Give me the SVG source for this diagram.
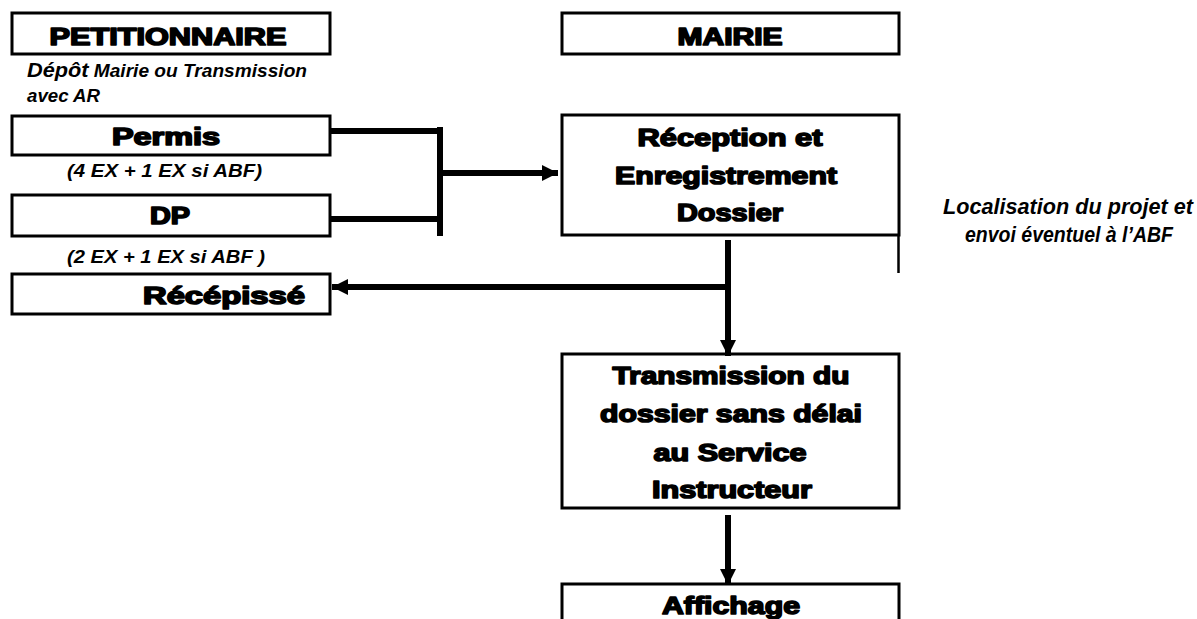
<svg xmlns="http://www.w3.org/2000/svg" width="1197" height="619" viewBox="0 0 1197 619">
<style>
.box{fill:#fff;stroke:#000;stroke-width:3}
.h{font-family:"Liberation Sans",Arial,sans-serif;font-weight:bold;fill:#000;stroke:#000;stroke-width:1.6;stroke-linejoin:round;text-anchor:middle;font-size:23px}
.h2{font-size:24px}
.it{font-family:"Liberation Sans",Arial,sans-serif;font-weight:bold;font-style:italic;fill:#000;font-size:18.5px}
.dep{font-size:21px}
.loc{font-size:21.5px;text-anchor:middle}
.c{fill:none;stroke:#000;stroke-width:6}
</style>
<defs>
<marker id="ah" viewBox="0 0 16 16" refX="16" refY="8" markerWidth="16" markerHeight="16" markerUnits="userSpaceOnUse" orient="auto">
<path d="M0,0 L16,8 L0,16 z" fill="#000"/>
</marker>
</defs>
<rect width="1197" height="619" fill="#fff"/>

<g id="petitionnaire">
<rect class="box" x="12" y="13" width="318" height="41"/>
<text class="h" x="168" y="45" textLength="237" lengthAdjust="spacingAndGlyphs">PETITIONNAIRE</text>
</g>
<g id="depot-label">
<text class="it" x="27" y="77" textLength="280" lengthAdjust="spacingAndGlyphs"><tspan class="dep">Dépôt</tspan> Mairie ou Transmission</text>
<text class="it" x="27" y="102" textLength="73" lengthAdjust="spacingAndGlyphs">avec AR</text>
</g>
<g id="permis">
<rect class="box" x="12" y="116" width="318" height="39"/>
<text class="h" x="166" y="145" textLength="108" lengthAdjust="spacingAndGlyphs">Permis</text>
<text class="it" x="67" y="177" textLength="195" lengthAdjust="spacingAndGlyphs">(4 EX + 1 EX si ABF)</text>
</g>
<g id="dp">
<rect class="box" x="12" y="195" width="318" height="41"/>
<text class="h" x="170" y="224" textLength="40" lengthAdjust="spacingAndGlyphs">DP</text>
<text class="it" x="67" y="263" textLength="198" lengthAdjust="spacingAndGlyphs">(2 EX + 1 EX si ABF )</text>
</g>
<g id="recepisse">
<rect class="box" x="12" y="274" width="318" height="40"/>
<text class="h" x="224" y="304" textLength="162" lengthAdjust="spacingAndGlyphs">Récépissé</text>
</g>
<g id="mairie">
<rect class="box" x="562" y="13" width="337" height="41"/>
<text class="h" x="730" y="45" textLength="105" lengthAdjust="spacingAndGlyphs">MAIRIE</text>
</g>
<g id="reception">
<rect class="box" x="562" y="115" width="337" height="120"/>
<line x1="898.5" y1="235" x2="898.5" y2="273" stroke="#000" stroke-width="2.5"/>
<text class="h h2" x="730" y="146" textLength="185" lengthAdjust="spacingAndGlyphs">Réception et</text>
<text class="h h2" x="726" y="184" textLength="222" lengthAdjust="spacingAndGlyphs">Enregistrement</text>
<text class="h h2" x="730" y="221" textLength="106" lengthAdjust="spacingAndGlyphs">Dossier</text>
</g>
<g id="localisation">
<text class="it loc" x="1068" y="214" textLength="250" lengthAdjust="spacingAndGlyphs">Localisation du projet et</text>
<text class="it loc" x="1069" y="242" textLength="208" lengthAdjust="spacingAndGlyphs">envoi éventuel à l’ABF</text>
</g>
<g id="transmission">
<rect class="box" x="562" y="354" width="337" height="154"/>
<text class="h h2" x="731" y="384" textLength="237" lengthAdjust="spacingAndGlyphs">Transmission du</text>
<text class="h h2" x="731" y="422" textLength="262" lengthAdjust="spacingAndGlyphs">dossier sans délai</text>
<text class="h h2" x="730" y="461" textLength="153" lengthAdjust="spacingAndGlyphs">au Service</text>
<text class="h h2" x="732" y="498" textLength="160" lengthAdjust="spacingAndGlyphs">Instructeur</text>
</g>
<g id="affichage">
<rect class="box" x="562" y="584" width="337" height="50"/>
<text class="h h2" x="731" y="614" textLength="138" lengthAdjust="spacingAndGlyphs">Affichage</text>
</g>

<g id="connectors">
<path class="c" d="M330,131 H440" stroke-width="5"/>
<path class="c" d="M330,219 H440" stroke-width="5"/>
<path class="c" d="M440,127 V236" stroke-width="7"/>
<path class="c" d="M443,173 H558" marker-end="url(#ah)"/>
<path class="c" d="M728,240 V356" marker-end="url(#ah)"/>
<path class="c" d="M728,287 H332" marker-end="url(#ah)"/>
<path class="c" d="M728,515 V585" marker-end="url(#ah)"/>
</g>
</svg>
